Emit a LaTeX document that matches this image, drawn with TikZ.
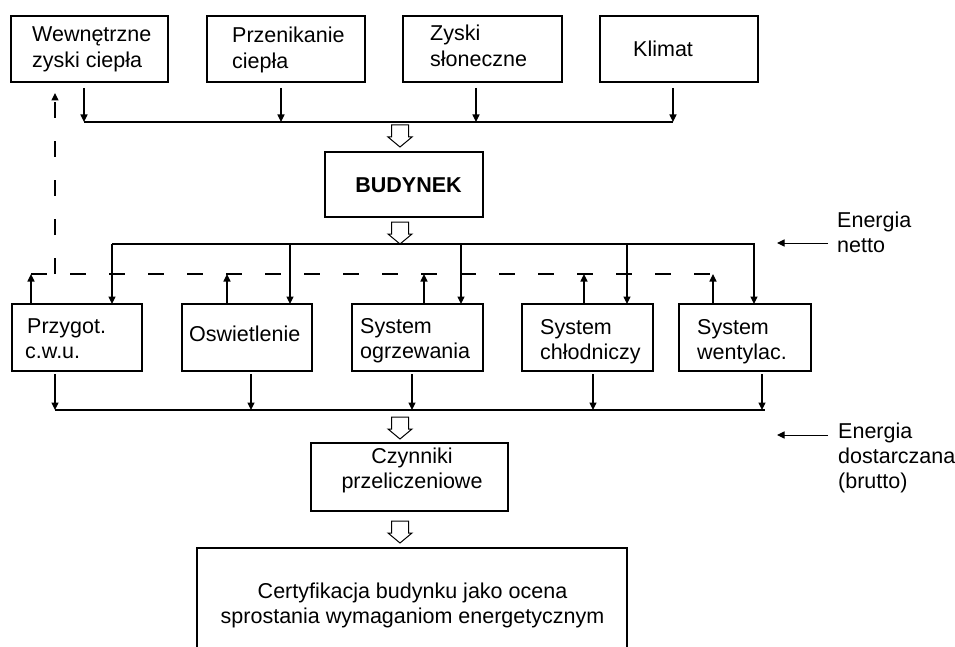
\documentclass[tikz,border=0pt]{standalone}
\usepackage{fontspec}
\setmainfont{Liberation Sans}
\usetikzlibrary{arrows.meta}
\newcommand{\tl}[1]{\begin{tabular}[t]{@{}l@{}}#1\end{tabular}}
\newcommand{\tc}[1]{\begin{tabular}[t]{@{}c@{}}#1\end{tabular}}
\begin{document}
\begin{tikzpicture}[x=1pt,y=-1pt,
  box/.style={draw, line width=1.1pt, inner sep=0pt},
  txt/.style={inner sep=0pt, font=\fontsize{21.5}{25.3}\selectfont},
  arr/.style={line width=1.1pt, -{Triangle[length=7.5pt,width=7pt]}},
  fbdash/.style={line width=1.1pt, dash pattern=on 16pt off 23pt},
  harrow/.pic={\draw[line width=1pt, fill=white, line join=miter]
     (-8.5,0) -- (8.5,0) -- (8.5,12) -- (12,12) -- (0,22) -- (-12,12) -- (-8.5,12) -- cycle;}
]
\useasboundingbox (0,0) rectangle (955,647);
\clip (0,0) rectangle (955,647);

% top boxes
\node[box,minimum width=157,minimum height=66] (t1) at (89.5,49) {};
\node[box,minimum width=158,minimum height=66] (t2) at (286,49) {};
\node[box,minimum width=159,minimum height=66] (t3) at (482.5,49) {};
\node[box,minimum width=158,minimum height=66] (t4) at (679,49) {};
\node[txt,anchor=base west] (t1x) at (32,42) {\tl{Wewnętrzne\\zyski ciepła}};
\node[txt,anchor=base west] (t2x) at (232,43) {\tl{Przenikanie\\ciepła}};
\node[txt,anchor=base west] (t3x) at (430,41) {\tl{Zyski\\słoneczne}};
\node[txt,anchor=base west] (t4x) at (633,57) {Klimat};

% top bus
\coordinate (a1) at (84,88);  \coordinate (b1) at (84,122);
\coordinate (a2) at (281,88); \coordinate (b2) at (281,122);
\coordinate (a3) at (476,88); \coordinate (b3) at (476,122);
\coordinate (a4) at (673,88); \coordinate (b4) at (673,122);
\draw[line width=1.1pt] (b1) -- (b4);
\foreach \i in {1,...,4} \draw[arr] (a\i) -- (b\i);

% building
\pic at (400,125) {harrow};
\node[box,minimum width=158,minimum height=65] (b) at (404,184.5) {};
\node[txt,anchor=base,font=\fontsize{21.5}{25.3}\selectfont\bfseries] (bx) at (408.5,193) {BUDYNEK};
\pic at (400,222) {harrow};

% middle boxes
\node[box,minimum width=130,minimum height=67] (m1) at (77,337.5) {};
\node[box,minimum width=130,minimum height=67] (m2) at (247,337.5) {};
\node[box,minimum width=131,minimum height=67] (m3) at (417.5,337.5) {};
\node[box,minimum width=131,minimum height=67] (m4) at (587.5,337.5) {};
\node[box,minimum width=132,minimum height=67] (m5) at (745,337.5) {};
\node[txt,anchor=base west] (m1x) at (25,333) {\tl{\hspace{2pt}Przygot.\\c.w.u.}};
\node[txt,anchor=base west] (m2x) at (189,341) {Oswietlenie};
\node[txt,anchor=base west] (m3x) at (360,333) {\tl{System\\ogrzewania}};
\node[txt,anchor=base west] (m4x) at (540,334) {\tl{System\\chłodniczy}};
\node[txt,anchor=base west] (m5x) at (697,334) {\tl{System\\wentylac.}};

% net energy bus
\coordinate (nL) at (112,244); \coordinate (nR) at (755,244);
\draw[line width=1.1pt] (nL) -- (nR);
\foreach \x in {112,290,461,627,754} \draw[arr] (\x,244) -- (\x,304);

% dashed feedback
\coordinate (dL) at (31,274); \coordinate (dR) at (713,274);
\draw[fbdash] (dL) -- (dR);
\coordinate (dv) at (55,274); \coordinate (dtop) at (55,93);
\draw[fbdash, -{Triangle[length=7.5pt,width=7pt]}] (dv) -- (dtop);
\foreach \x in {31,227,424,584,713} \draw[arr] (\x,304) -- (\x,274);

% delivered energy bus
\coordinate (gL) at (55,410); \coordinate (gR) at (765,410);
\draw[line width=1.1pt] (gL) -- (gR);
\foreach \x in {55,251,412,593,762} \draw[arr] (\x,374) -- (\x,410);

% conversion factors
\pic at (400,417) {harrow};
\node[box,minimum width=197,minimum height=68] (c) at (409.5,477) {};
\node[txt,anchor=base] (cx) at (412,463) {\tc{Czynniki\\przeliczeniowe}};
\pic at (400,521) {harrow};

% certification
\node[box,minimum width=430,minimum height=160] (f) at (412,628) {};
\node[txt,anchor=base] (fx) at (412.5,598) {\tc{Certyfikacja budynku jako ocena\\sprostania wymaganiom energetycznym}};

% energy labels
\node[txt,anchor=base west] (en1) at (837,227) {\tl{Energia\\netto}};
\node[txt,anchor=base west] (en2) at (838,438) {\tl{Energia\\dostarczana\\(brutto)}};
\coordinate (e1s) at (828,243); \coordinate (e1e) at (777,243);
\coordinate (e2s) at (828,435); \coordinate (e2e) at (777,435);
\draw[arr, line width=1pt] (e1s) -- (e1e);
\draw[arr, line width=1pt] (e2s) -- (e2e);
\end{tikzpicture}
\end{document}
